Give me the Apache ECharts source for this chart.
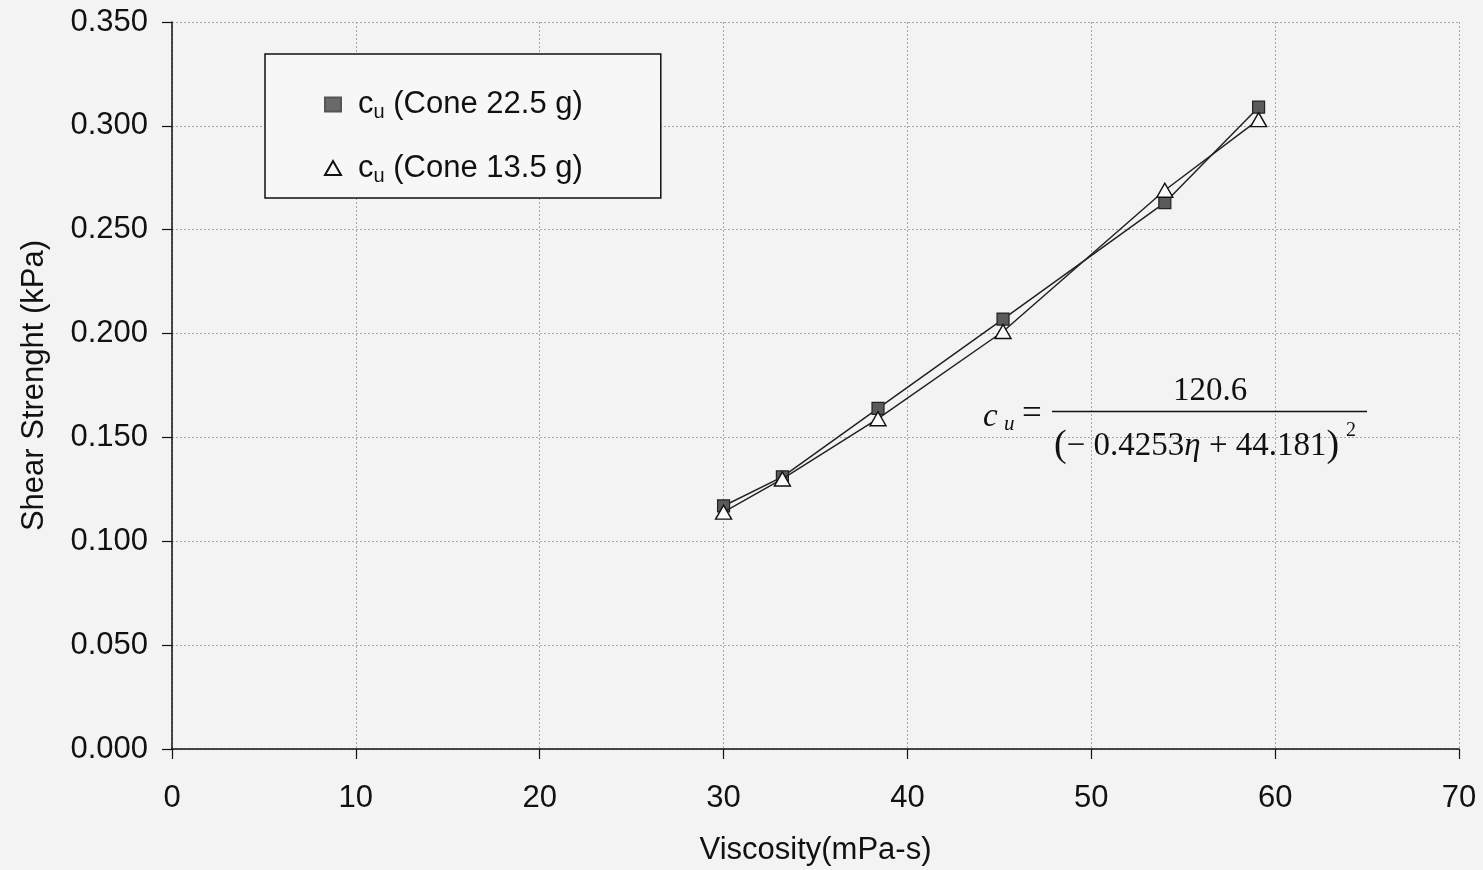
<!DOCTYPE html>
<html>
  <head>
    <meta http-equiv="Content-Type" content="text/html; charset=UTF-8">
    <title>Shear strength vs viscosity</title>
    <script src="https://cdn.jsdelivr.net/npm/echarts@6/dist/echarts.min.js" charset="utf-8"></script>
    <style type="text/css">
      * {margin: 0; padding: 0;}
      body {background: #f3f3f3;}
    </style>
  </head>
  <body>
    <div id="chart" style="width:1483px;height:870px"></div>

    <script type="text/javascript">
      // viscosity (mPa-s) of the six samples
      var viscosity = [30, 33.2, 38.4, 45.2, 54, 59.1];
      // shear strength (kPa)
      var cone225 = [0.117, 0.131, 0.164, 0.207, 0.263, 0.309];
      var cone135 = [0.114, 0.130, 0.159, 0.201, 0.269, 0.303];

      var seriesNames = ['cu (Cone 22.5 g)', 'cu (Cone 13.5 g)'];
      var xTickLabels = ['0', '10', '20', '30', '40', '50', '60', '70'];
      var yTickLabels = ['0.000', '0.050', '0.100', '0.150', '0.200', '0.250', '0.300', '0.350'];

      var eqNumerator = '120.6';
      var eqDenominator = ['(\u2212 0.4253', '\u03b7', ' + 44.181)'];

      var sans = '"Liberation Sans", Arial, sans-serif';
      var serif = '"Liberation Serif", "Times New Roman", serif';
      var ink = '#111';

      function pairs(xs, ys) {
        var res = [];
        for (var i = 0; i < xs.length; i++) {
          res.push([xs[i], ys[i]]);
        }
        return res;
      }

      var chart = echarts.init(document.getElementById('chart'));

      var option = {
        backgroundColor: '#f3f3f3',
        animation: false,
        grid: {
          left: 172, right: 24, top: 22, bottom: 121,
          containLabel: false,
          outerBoundsMode: 'none'
        },
        legend: {
          orient: 'vertical',
          left: 265,
          top: 54,
          padding: [35, 78, 12, 59],
          itemGap: 30,
          itemWidth: 16,
          itemHeight: 14,
          borderColor: ink,
          borderWidth: 1.5,
          backgroundColor: '#f7f7f7',
          selectedMode: false,
          data: [
            {name: seriesNames[0], icon: 'rect', itemStyle: {color: '#6a6a6a', borderColor: '#555'}},
            {name: seriesNames[1], icon: 'triangle'}
          ],
          formatter: function (name) {
            return '{g|}{t|c}{s|u}{t| ' + name.substring(3) + '}';
          },
          textStyle: {
            color: ink,
            fontFamily: sans,
            fontSize: 31,
            rich: {
              g: {width: 12, lineHeight: 36},
              t: {fontFamily: sans, fontSize: 31, lineHeight: 36, color: ink},
              s: {fontFamily: sans, fontSize: 20, lineHeight: 22, color: ink, verticalAlign: 'bottom'}
            }
          }
        },
        xAxis: {
          type: 'value',
          min: 0, max: 70, interval: 10,
          name: 'Viscosity(mPa-s)',
          nameLocation: 'middle',
          nameGap: 86,
          nameTextStyle: {fontFamily: sans, fontSize: 31, color: ink},
          axisLine: {show: true, onZero: false, lineStyle: {color: ink, width: 1.5}},
          axisTick: {show: true, inside: false, length: 10, lineStyle: {color: ink, width: 1.2}},
          axisLabel: {
            margin: 34,
            fontFamily: sans, fontSize: 31, color: ink,
            formatter: function (v, i) { return xTickLabels[i]; }
          },
          splitLine: {show: true, lineStyle: {color: '#a8a8a8', width: 1, type: [2, 2]}}
        },
        yAxis: {
          type: 'value',
          min: 0, max: 0.35, interval: 0.05,
          name: 'Shear Strenght (kPa)',
          nameLocation: 'middle',
          nameGap: 122,
          nameTextStyle: {fontFamily: sans, fontSize: 31, color: ink},
          axisLine: {show: true, onZero: false, lineStyle: {color: ink, width: 1.5}},
          axisTick: {show: true, inside: false, length: 10, lineStyle: {color: ink, width: 1.2}},
          axisLabel: {
            margin: 24,
            fontFamily: sans, fontSize: 31, color: ink,
            formatter: function (v, i) { return yTickLabels[i]; }
          },
          splitLine: {show: true, lineStyle: {color: '#a8a8a8', width: 1, type: [2, 2]}}
        },
        series: [
          {
            name: seriesNames[0],
            type: 'line',
            data: pairs(viscosity, cone225),
            symbol: 'rect',
            symbolSize: 12,
            lineStyle: {color: '#222', width: 1.5},
            itemStyle: {color: '#5a5a5a', borderColor: '#222', borderWidth: 1.2},
            z: 2
          },
          {
            name: seriesNames[1],
            type: 'line',
            data: pairs(viscosity, cone135),
            symbol: 'triangle',
            symbolSize: [16, 14],
            lineStyle: {color: '#222', width: 1.5},
            itemStyle: {color: '#fafafa', borderColor: '#111', borderWidth: 1.4},
            z: 3
          }
        ],
        graphic: [
          {
            type: 'text', left: 983, top: 401, z: 10,
            style: {text: 'c', font: 'italic 33px ' + serif, fill: ink}
          },
          {
            type: 'text', left: 1004, top: 414, z: 10,
            style: {text: 'u', font: 'italic 21px ' + serif, fill: ink}
          },
          {
            type: 'text', left: 1022, top: 397, z: 10,
            style: {text: '=', font: '35px ' + serif, fill: ink}
          },
          {
            type: 'text', left: 1173, top: 375, z: 10,
            style: {text: eqNumerator, font: '33px ' + serif, fill: ink}
          },
          {
            type: 'line', z: 10,
            shape: {x1: 1052, y1: 411.5, x2: 1367, y2: 411.5},
            style: {stroke: ink, lineWidth: 1.5}
          },
          {
            type: 'text', left: 1054, top: 427, z: 10,
            style: {
              text: '{b|(}{p|' + eqDenominator[0].substring(1) + '}{i|' + eqDenominator[1] + '}{p|' + eqDenominator[2].slice(0, -1) + '}{b|)}',
              fill: ink,
              rich: {
                b: {font: '38px ' + serif, fill: ink},
                p: {font: '33px ' + serif, fill: ink},
                i: {font: 'italic 33px ' + serif, fill: ink}
              }
            }
          },
          {
            type: 'text', left: 1346, top: 421, z: 10,
            style: {text: '2', font: '20px ' + serif, fill: ink}
          }
        ]
      };

      chart.setOption(option);
    </script>
  </body>
</html>
